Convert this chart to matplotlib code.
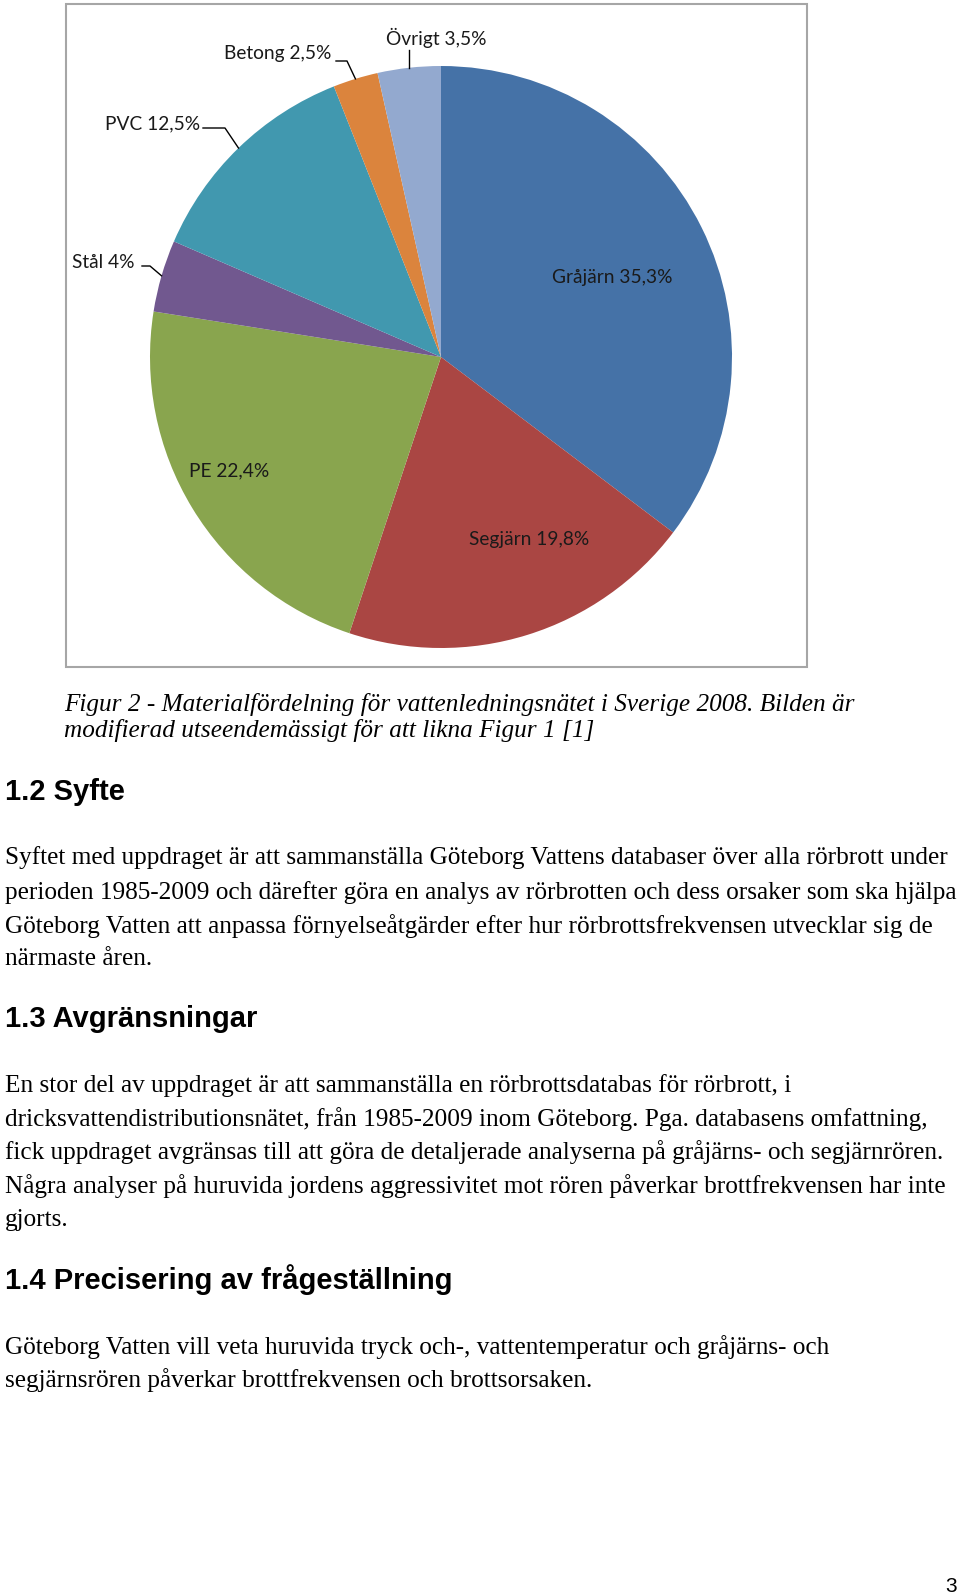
import matplotlib.pyplot as plt
from matplotlib.patches import Rectangle
import numpy as np

# pie data
materials = ["Gråjärn", "Segjärn", "PE", "Stål", "PVC", "Betong", "Övrigt"]
shares = [35.3, 19.8, 22.4, 4.0, 12.5, 2.5, 3.5]
share_labels = ["35,3%", "19,8%", "22,4%", "4%", "12,5%", "2,5%", "3,5%"]
colors = ["#4572A7", "#AA4643", "#89A54E", "#71588F", "#4198AF", "#DB843D", "#93A9CF"]

caption = ["Figur 2 - Materialfördelning för vattenledningsnätet i Sverige 2008. Bilden är",
           "modifierad utseendemässigt för att likna Figur 1 [1]"]
sections = [
    ("1.2 Syfte", [
        "Syftet med uppdraget är att sammanställa Göteborg Vattens databaser över alla rörbrott under",
        "perioden 1985-2009 och därefter göra en analys av rörbrotten och dess orsaker som ska hjälpa",
        "Göteborg Vatten att anpassa förnyelseåtgärder efter hur rörbrottsfrekvensen utvecklar sig de",
        "närmaste åren."]),
    ("1.3 Avgränsningar", [
        "En stor del av uppdraget är att sammanställa en rörbrottsdatabas för rörbrott, i",
        "dricksvattendistributionsnätet, från 1985-2009 inom Göteborg. Pga. databasens omfattning,",
        "fick uppdraget avgränsas till att göra de detaljerade analyserna på gråjärns- och segjärnrören.",
        "Några analyser på huruvida jordens aggressivitet mot rören påverkar brottfrekvensen har inte",
        "gjorts."]),
    ("1.4 Precisering av frågeställning", [
        "Göteborg Vatten vill veta huruvida tryck och-, vattentemperatur och gråjärns- och",
        "segjärnsrören påverkar brottfrekvensen och brottsorsaken."]),
]

W, H = 960, 1596
fig = plt.figure(figsize=(9.6, 15.96), dpi=100)

# page axes in pixel units, y going down
page = fig.add_axes([0, 0, 1, 1])
page.set_xlim(0, W)
page.set_ylim(H, 0)
page.axis("off")
page.set_zorder(2)

# chart frame
page.add_patch(Rectangle((66, 4), 741, 663, fill=False, ec="#A6A6A6", lw=1.5))

cx, cy, R = 441, 357, 291
ax = fig.add_axes([(cx - R) / W, (H - cy - R) / H, 2 * R / W, 2 * R / H])
ax.set_zorder(1)
wedges, _ = ax.pie(shares, colors=colors, startangle=90, counterclock=False,
                   wedgeprops=dict(linewidth=0))
ax.set_xlim(-1, 1)
ax.set_ylim(-1, 1)
ax.set_aspect("equal")

lab_font = dict(family="Lato", fontsize=13.8, color="#1a1a1a")

# labels inside the pie
inside = {0: (612, 278), 1: (529, 540), 2: (229, 471)}
for i, (x, y) in inside.items():
    page.text(x, y, f"{materials[i]} {share_labels[i]}", ha="center", va="center", **lab_font)

# labels outside with leader lines
outside = {3: ((135, 262), [(142, 266), (150, 266)]),
           4: ((200, 124), [(203, 128), (225, 128)]),
           5: ((331, 53), [(336, 61), (347, 61)])}
for i, ((x, y), pts) in outside.items():
    page.text(x, y, f"{materials[i]} {share_labels[i]}", ha="right", va="center", **lab_font)
    w = wedges[i]
    mid = np.deg2rad((w.theta1 + w.theta2) / 2)
    ex, ey = cx + R * np.cos(mid), cy - R * np.sin(mid)
    xs = [p[0] for p in pts] + [ex]
    ys = [p[1] for p in pts] + [ey]
    page.plot(xs, ys, color="black", lw=1)

w = wedges[6]
mid = np.deg2rad((w.theta1 + w.theta2) / 2)
ex, ey = cx + R * np.cos(mid), cy - R * np.sin(mid)
page.text(436, 38, f"{materials[6]} {share_labels[6]}", ha="center", va="center", **lab_font)
page.plot([ex, ex], [50, ey], color="black", lw=1)

# caption
for txt, y in zip(caption, [705, 731]):
    page.text(64, y, txt, ha="left", va="center", family="Liberation Serif",
              style="italic", fontsize=18.2)

# headings and body text
heading_y = [792, 1019, 1280]
body_y = [[858, 893, 926, 959], [1086, 1119, 1152, 1186, 1220], [1347, 1380]]
for (head, lines), hy, ys in zip(sections, heading_y, body_y):
    page.text(5, hy, head, ha="left", va="center", family="Liberation Sans",
              weight="bold", fontsize=21)
    for txt, y in zip(lines, ys):
        page.text(5, y, txt, ha="left", va="center", family="Liberation Serif", fontsize=18.2)

page.text(951, 1586, "3", ha="center", va="center", family="Liberation Sans", fontsize=15)

fig.savefig("out.png", dpi=100)
